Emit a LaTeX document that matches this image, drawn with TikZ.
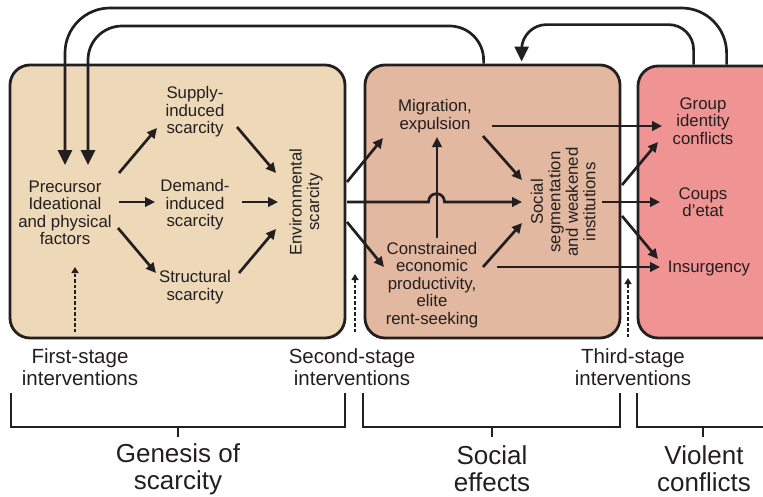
\documentclass[tikz,border=0pt]{standalone}
\usepackage{fontspec}
\setmainfont{Liberation Sans}
\usetikzlibrary{arrows.meta,calc}
\definecolor{ink}{HTML}{231F20}
\definecolor{genesis}{HTML}{EDD8B8}
\definecolor{socialfx}{HTML}{E3B8A0}
\definecolor{violent}{HTML}{EF9393}

\begin{document}
\begin{tikzpicture}[x=1pt,y=-1pt,
  box/.style={draw=ink,line width=2.8pt,rounded corners=20pt,inner sep=0pt},
  lbl/.style={text=ink,align=center,inner sep=0pt,font=\fontsize{16.8}{17.5}\selectfont},
  arr/.style={draw=ink,line width=2.7pt,-{Triangle[length=10pt,width=9.5pt]}},
  bigarr/.style={draw=ink,line width=2.7pt,-{Triangle[length=15pt,width=14pt]}},
  interv/.style={draw=ink,line width=2.9pt,dash pattern=on 3.5pt off 2pt,-{Triangle[length=6pt,width=7pt]}},
  stage/.style={text=ink,align=center,inner sep=0pt,font=\fontsize{20.5}{21.5}\selectfont},
  phase/.style={text=ink,align=center,inner sep=0pt,font=\fontsize{26}{27}\selectfont},
  brk/.style={draw=ink,line width=2.2pt}]

\useasboundingbox (0,0) rectangle (763,496);
\clip (0,0) rectangle (763,496);

% the three stage panels
\node[box,fill=genesis,minimum width=335pt,minimum height=273pt] (b1) at (177.5,201.5) {};
\node[box,fill=socialfx,minimum width=255pt,minimum height=273pt] (b2) at (492.5,201.5) {};
\node[box,fill=violent,minimum width=152pt,minimum height=272pt] (b3) at (714,202) {};

% genesis of scarcity
\node[lbl] (pre) at (65,213) {Precursor\\Ideational\\and physical\\factors};
\node[lbl] (sup) at (195,112) {Supply-\\induced\\scarcity};
\node[lbl] (dem) at (195,205) {Demand-\\induced\\scarcity};
\node[lbl] (str) at (195,287) {Structural\\scarcity};
\node[lbl,rotate=90] (env) at (306,202) {Environmental\\scarcity};

% social effects
\node[lbl] (mig) at (435,116) {Migration,\\expulsion};
\node[lbl] (con) at (432,285) {Constrained\\economic\\productivity,\\elite\\rent-seeking};
\node[lbl,rotate=90] (soc) at (563,202) {Social\\segmentation\\and weakened\\institutions};

% violent conflicts
\node[lbl] (grp) at (703,121) {Group\\identity\\conflicts};
\node[lbl] (cou) at (703,202) {Coups\\d’etat};
\node[lbl] (ins) at (709,268) {Insurgency};

% causal links inside the genesis panel
\draw[arr] ($(pre)+(54,-40)$) -- ($(sup)+(-38,16)$);
\draw[arr] ($(pre)+(54,-11)$) -- ($(dem)+(-40,-3)$);
\draw[arr] ($(pre)+(53,15)$) -- ($(str)+(-39,-14)$);
\draw[arr] ($(sup)+(42,15)$) -- ($(env)+(-30,-29)$);
\draw[arr] ($(dem)+(47,-3)$) -- ($(env)+(-28,0)$);
\draw[arr] ($(str)+(44,-14)$) -- ($(env)+(-30,27)$);

% links into and within the social panel
\draw[arr] ($(env)+(41,-20)$) -- ($(mig)+(-52,22)$);
\draw[arr] ($(env)+(41,20)$) -- ($(con)+(-48,-18)$);
\draw[arr] ($(env)+(41,0)$) -- (428.5,202)
  .. controls (428.5,191) and (444.5,191) .. (444.5,202) -- ($(soc)+(-41,0)$);
\draw[arr] ($(con)+(5,-47)$) -- ($(mig)+(2,21)$);
\draw[arr] ($(mig)+(48,20)$) -- ($(soc)+(-41,-22)$);
\draw[arr] ($(con)+(51,-18)$) -- ($(soc)+(-41,21)$);
\draw[arr] ($(mig)+(57,10)$) -- ($(grp)+(-41,5)$);
\draw[arr] ($(con)+(65,-18)$) -- ($(ins)+(-49,-1)$);

% links into the conflict panel
\draw[arr] ($(soc)+(59,-17)$) -- ($(grp)+(-45,21)$);
\draw[arr] ($(soc)+(39,0)$) -- ($(cou)+(-43,0)$);
\draw[arr] ($(soc)+(59,14)$) -- ($(ins)+(-51,-9)$);

% feedback loops over the top
\draw[bigarr,rounded corners=45pt] ($(b3.north west)+(90,0)$) |- ($(pre)+(0,-205)$) -- ($(pre)+(0,-48)$);
\draw[bigarr,rounded corners=34pt] ($(b2.north west)+(120,0)$) |- ($(pre)+(23,-187)$) -- ($(pre)+(23,-48)$);
\draw[bigarr,rounded corners=25pt] ($(b3.north west)+(57,0)$) |- ($(b2.north west)+(158,-39)$) -- ($(b2.north west)+(158,-2)$);

% intervention points
\coordinate (i1) at (75,332);
\coordinate (i2) at (355,332);
\coordinate (i3) at (628,337);
\draw[interv] (i1) -- ++(0,-65);
\draw[interv] (i2) -- ++(0,-58);
\draw[interv] (i3) -- ++(0,-59);

\node[stage] (s1) at (80,367) {First-stage\\interventions};
\node[stage] (s2) at (352,367) {Second-stage\\interventions};
\node[stage] (s3) at (633,367) {Third-stage\\interventions};

% phase brackets
\draw[brk] (11,393) |- (345,427) -- (345,393);
\draw[brk] (178,427) -- (178,437);
\draw[brk] (363,393) |- (620,427) -- (620,393);
\draw[brk] (492,427) -- (492,437);
\draw[brk] (637,393) |- (770,427);
\draw[brk] (703,427) -- (703,437);

\node[phase] (p1) at (178,469) {Genesis of\\scarcity};
\node[phase] (p2) at (492,469) {Social\\effects};
\node[phase] (p3) at (704,469) {Violent\\conflicts};
\end{tikzpicture}
\end{document}
